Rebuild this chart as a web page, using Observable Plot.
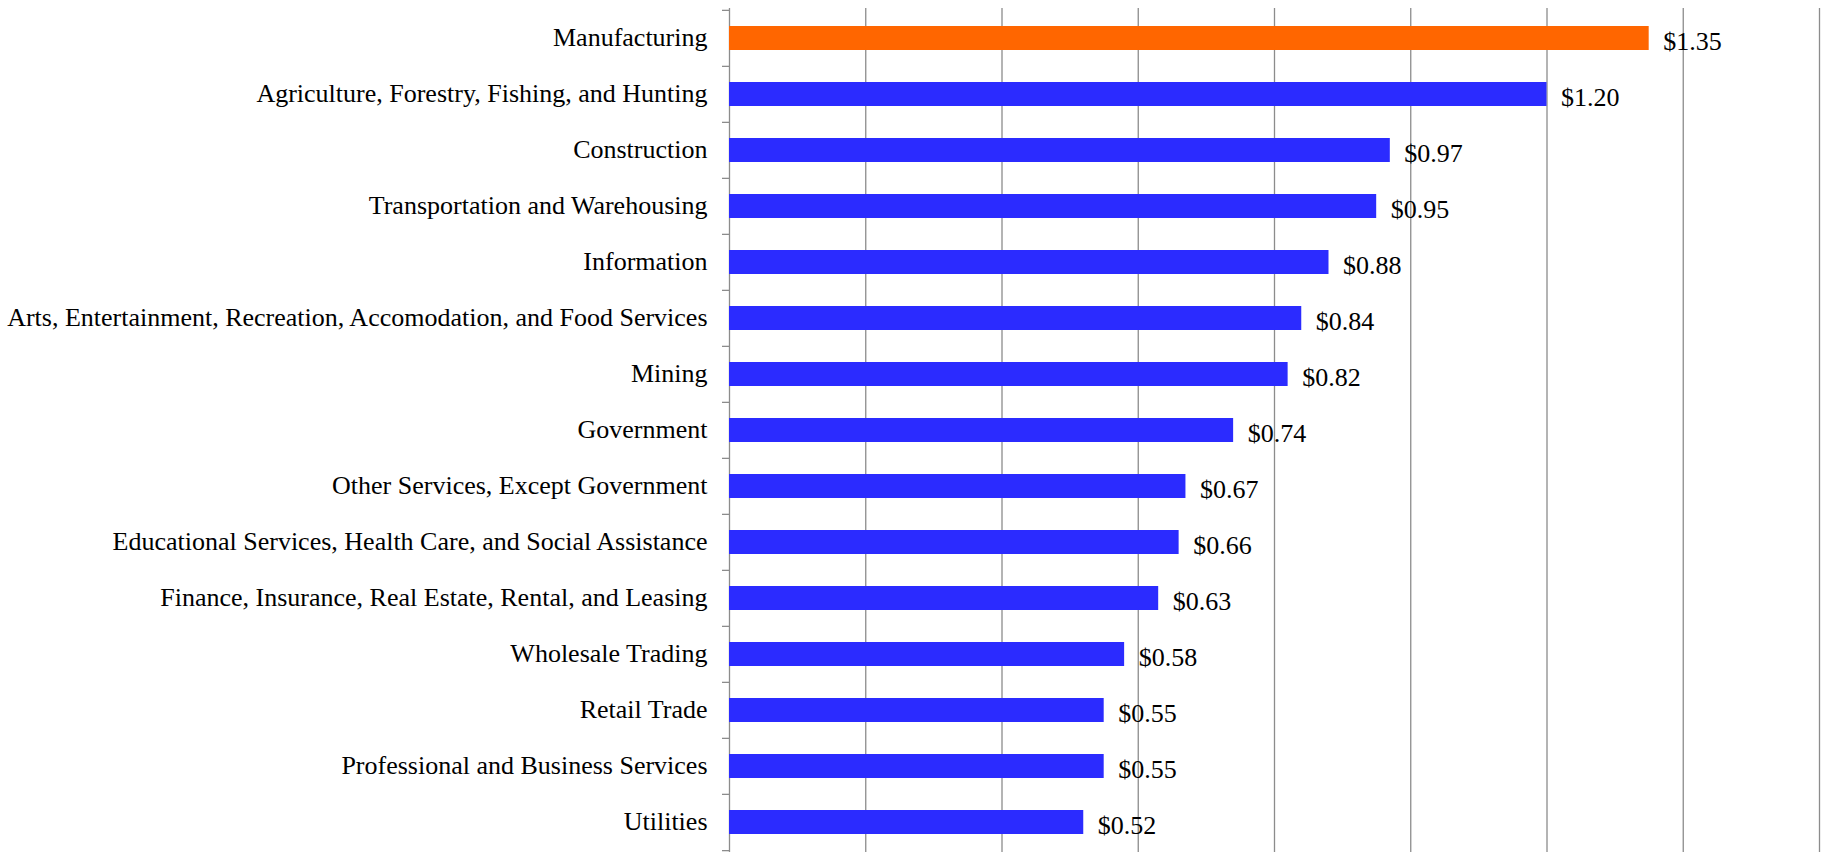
<!DOCTYPE html>
<html><head><meta charset="utf-8">
<script src="https://cdn.jsdelivr.net/npm/d3@7"></script>
<script src="https://cdn.jsdelivr.net/npm/@observablehq/plot@0.6"></script>
<style>body{margin:0;background:#fff}</style>
</head><body><div id="chart"></div>
<script>
const industries = [
  "Manufacturing",
  "Agriculture, Forestry, Fishing, and Hunting",
  "Construction",
  "Transportation and Warehousing",
  "Information",
  "Arts, Entertainment, Recreation, Accomodation, and Food Services",
  "Mining",
  "Government",
  "Other Services, Except Government",
  "Educational Services, Health Care, and Social Assistance",
  "Finance, Insurance, Real Estate, Rental, and Leasing",
  "Wholesale Trading",
  "Retail Trade",
  "Professional and Business Services",
  "Utilities"
];
const values = [1.35, 1.20, 0.97, 0.95, 0.88, 0.84, 0.82, 0.74, 0.67, 0.66, 0.63, 0.58, 0.55, 0.55, 0.52];
const highlight = "Manufacturing";
const xTicks = [0, 0.2, 0.4, 0.6, 0.8, 1.0, 1.2, 1.4, 1.6];

const data = industries.map((d, i) => ({industry: d, value: values[i]}));
const W = 1824, H = 855, mt = 8, mb = 3, ml = 729, mr = 5;
const step = (H - mt - mb) / industries.length;
const grey = "#8c8c8c";

const chart = Plot.plot({
  width: W, height: H,
  marginTop: mt, marginBottom: mb, marginLeft: ml, marginRight: mr,
  style: {fontFamily: "'Liberation Serif', 'Times New Roman', serif", fontSize: "26px", color: "#000", background: "#fff"},
  x: {domain: [0, 1.6], axis: null},
  y: {domain: industries, paddingInner: 0.57, paddingOuter: 0.285, label: null, axis: null},
  color: {type: "identity"},
  marks: [
    Plot.ruleX(xTicks, {stroke: grey, strokeWidth: 1.3, strokeOpacity: 1}),
    Plot.barX(data, {y: "industry", x: "value", fill: d => d.industry === highlight ? "#ff6600" : "#2b2bff"}),
    Plot.text(data, {y: "industry", x: "value", text: d => "$" + d.value.toFixed(2), textAnchor: "start", dx: 14, dy: 3, fontSize: 26, fill: "#000"}),
    Plot.axisY({tickSize: 0, tickPadding: 22, fontSize: 26, dy: -1, fill: "#000"}),
    Plot.axisY({tickSize: 7, tickFormat: () => "", dy: -step / 2, stroke: grey, strokeOpacity: 1, strokeWidth: 1.3}),
    Plot.axisY([industries[industries.length - 1]], {tickSize: 7, tickFormat: () => "", dy: step / 2, stroke: grey, strokeOpacity: 1, strokeWidth: 1.3})
  ]
});
document.getElementById("chart").appendChild(chart);
</script>
</body></html>
